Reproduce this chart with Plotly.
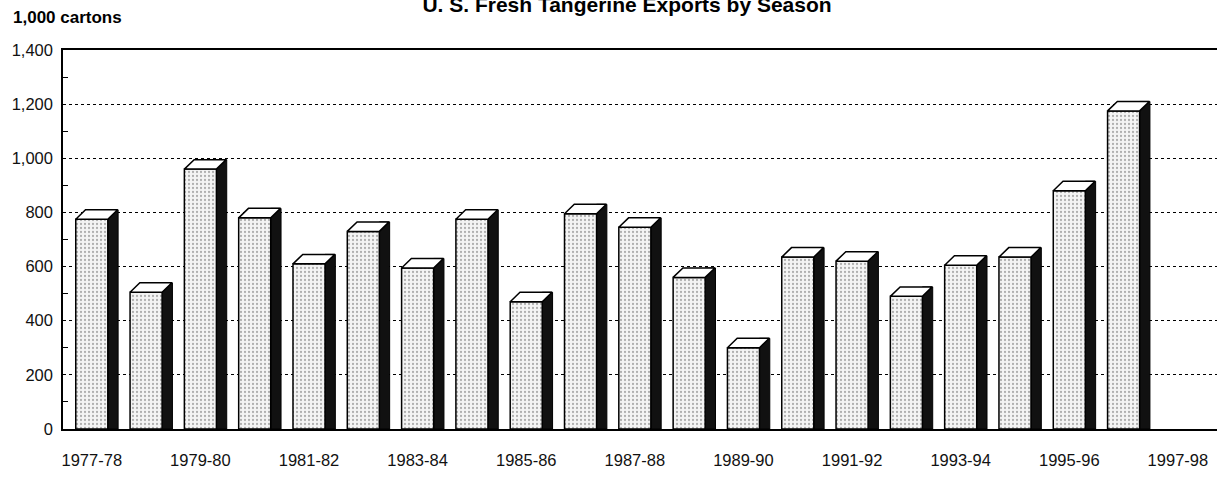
import plotly.graph_objects as go

seasons = ["1977-78", "1978-79", "1979-80", "1980-81", "1981-82", "1982-83", "1983-84",
           "1984-85", "1985-86", "1986-87", "1987-88", "1988-89", "1989-90", "1990-91",
           "1991-92", "1992-93", "1993-94", "1994-95", "1995-96", "1996-97"]
exports = [775, 505, 960, 780, 610, 730, 595, 775, 470, 795, 745, 560, 300, 635,
           620, 490, 605, 635, 880, 1175]
tick_labels = ["1977-78", "1979-80", "1981-82", "1983-84", "1985-86", "1987-88",
               "1989-90", "1991-92", "1993-94", "1995-96", "1997-98"]

title_text = "U. S. Fresh Tangerine Exports by Season"
unit_text = "1,000 cartons"

# style constants for the pseudo-3D look
FRONT_W = 0.59
SIDE_W = 0.19
DEPTH_X = 0.18
DEPTH_Y = 35

xs = list(range(len(seasons)))

fig = go.Figure()

# side (dark) faces
fig.add_trace(go.Bar(
    x=xs, y=[v + DEPTH_Y for v in exports], width=SIDE_W, offset=FRONT_W / 2,
    marker=dict(color="#111111", line=dict(color="black", width=1)),
    hoverinfo="skip", showlegend=False,
))
# front faces
fig.add_trace(go.Bar(
    x=xs, y=exports, width=FRONT_W, offset=-FRONT_W / 2,
    marker=dict(color="#f2f2f2",
                line=dict(color="black", width=1.5),
                pattern=dict(shape=".", fgcolor="#6a6a6a", bgcolor="#f4f4f4",
                             size=4, solidity=0.25)),
    customdata=seasons, hovertemplate="%{customdata}: %{y}<extra></extra>",
    showlegend=False,
))
# top faces
tx, ty = [], []
for c, v in zip(xs, exports):
    l, r = c - FRONT_W / 2, c + FRONT_W / 2
    tx += [l, l + DEPTH_X, r + DEPTH_X, r, l, None]
    ty += [v, v + DEPTH_Y, v + DEPTH_Y, v, v, None]
fig.add_trace(go.Scatter(
    x=tx, y=ty, mode="lines", fill="toself", fillcolor="white",
    line=dict(color="black", width=1.5), hoverinfo="skip", showlegend=False,
))

fig.update_layout(
    width=1217, height=477,
    margin=dict(l=63, r=0, t=50, b=48, autoexpand=False),
    paper_bgcolor="white", plot_bgcolor="white",
    barmode="overlay",
    font=dict(family="Liberation Sans, Arial, sans-serif", color="#111111"),
    title=dict(text="<b>" + title_text + "</b>", x=627 / 1217, xanchor="center",
               xref="container", yref="container", y=1 - 5 / 477, yanchor="middle",
               font=dict(size=21, color="black")),
    xaxis=dict(
        range=[-0.53, 20.72],
        tickmode="array",
        tickvals=[2 * i for i in range(len(tick_labels))],
        ticktext=tick_labels,
        showgrid=False, zeroline=False, automargin=False,
        showline=True, mirror=True, linecolor="black", linewidth=2,
        ticks="", ticklabelstandoff=15,
        tickfont=dict(size=16.5, color="#111111"),
    ),
    yaxis=dict(
        range=[0, 1400], dtick=200, tickformat=",",
        showgrid=True, gridcolor="black", griddash="dot", gridwidth=1,
        zeroline=False, automargin=False,
        showline=True, linecolor="black", linewidth=1.5,
        ticks="", ticklabelstandoff=5,
        tickfont=dict(size=16.5, color="#111111"),
        minor=dict(dtick=100, ticks="inside", ticklen=5, tickcolor="black", showgrid=False),
    ),
    annotations=[dict(
        text="<b>" + unit_text + "</b>", xref="paper", yref="paper",
        x=(11 - 63) / 1154, y=1 + (50 - 18) / 379, xanchor="left", yanchor="middle",
        showarrow=False, font=dict(size=17, color="black"),
    )],
)

fig.write_html("out.html", config={"displayModeBar": False},
               post_script="document.body.style.margin='0';")
